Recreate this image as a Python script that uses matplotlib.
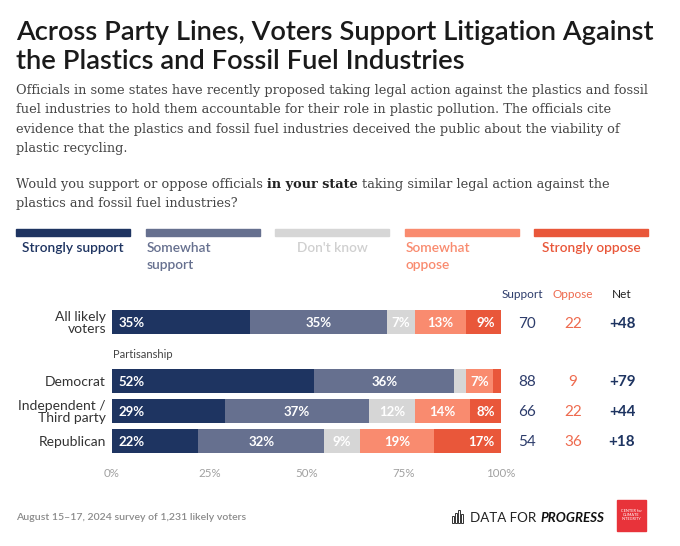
import matplotlib
matplotlib.use("Agg")
import matplotlib.pyplot as plt
from matplotlib.patches import Rectangle

# survey data (percent)
groups = ["All likely\nvoters", "Democrat", "Independent /\nThird party", "Republican"]
strongly_support = [35, 52, 29, 22]
somewhat_support = [35, 36, 37, 32]
dont_know = [7, 3, 12, 9]
somewhat_oppose = [13, 7, 14, 19]
strongly_oppose = [9, 2, 8, 17]
support_total = [70, 88, 66, 54]
oppose_total = [22, 9, 22, 36]
net_total = [48, 79, 44, 18]
answers = ["Strongly support", "Somewhat\nsupport", "Don't know", "Somewhat\noppose", "Strongly oppose"]
ticks = [0, 25, 50, 75, 100]

COLORS = ["#1e3461", "#66708f", "#d6d6d6", "#f98b6f", "#e9573a"]
SANS = "Lato"
SERIF = "DejaVu Serif"
W, H = 680, 546
ROW_Y = [322, 381, 411, 441]  # pixel centres of the rows

fig = plt.figure(figsize=(W / 100, H / 100), dpi=100)
fig.patch.set_facecolor("white")


def fx(x):
    return x / W


def fy(y):
    return 1 - y / H


def fit(t, target):
    r = fig.canvas.get_renderer()
    w = t.get_window_extent(r).width
    t.set_fontsize(t.get_fontsize() * target / w)
    return t


def px_text(x, y, s, **kw):
    kw.setdefault("family", SANS)
    kw.setdefault("va", "center_baseline")
    return fig.text(fx(x), fy(y), s, **kw)


# title + intro
t = px_text(16, 30, "Across Party Lines, Voters Support Litigation Against",
            fontsize=16, weight="semibold", color="#1a1a1a")
fit(t, 640)
title_fs = t.get_fontsize()
px_text(16, 59, "the Plastics and Fossil Fuel Industries", fontsize=title_fs,
        weight="semibold", color="#1a1a1a")

body = [
    "Officials in some states have recently proposed taking legal action against the plastics and fossil",
    "fuel industries to hold them accountable for their role in plastic pollution. The officials cite",
    "evidence that the plastics and fossil fuel industries deceived the public about the viability of",
    "plastic recycling.",
]
t = px_text(16, 89, body[0], family=SERIF, fontsize=10, color="#444444")
fit(t, 636)
body_fs = t.get_fontsize()
for i, line in enumerate(body[1:]):
    px_text(16, 108.5 + i * 19.5, line, family=SERIF, fontsize=body_fs, color="#444444")

# question line with bold part
r = fig.canvas.get_renderer()
space = body_fs * 100 / 72 * 0.32
x = 16
for part, wt in [("Would you support or oppose officials", "normal"),
                 ("in your state", "bold"),
                 ("taking similar legal action against the", "normal")]:
    t = px_text(x, 183, part, family=SERIF, fontsize=body_fs, weight=wt,
                color="#222222" if wt == "bold" else "#444444")
    x += t.get_window_extent(r).width + space
px_text(16, 202.5, "plastics and fossil fuel industries?", family=SERIF,
        fontsize=body_fs, color="#444444")

# legend
leg_w, leg_gap = 114, 15.5
for i, (lab, c) in enumerate(zip(answers, COLORS)):
    x0 = 16 + i * (leg_w + leg_gap)
    fig.patches.append(Rectangle((fx(x0), fy(236)), leg_w / W, 7 / H,
                                 transform=fig.transFigure, color=c))
    tc = "#1e3461" if i == 0 else ("#d0d0d0" if i == 2 else c)
    if "\n" in lab:
        l1, l2 = lab.split("\n")
        px_text(x0 + 1, 247, l1, fontsize=9.9, color=tc, weight="semibold")
        px_text(x0 + 1, 264, l2, fontsize=9.9, color=tc, weight="semibold")
    else:
        px_text(x0 + leg_w / 2, 247, lab, fontsize=9.9, color=tc, ha="center", weight="semibold")

# bars
ax = fig.add_axes([fx(112), fy(460), (501 - 112) / W, 160 / H])
ax.set_xlim(0, 100)
ax.set_ylim(460, 300)
series = [strongly_support, somewhat_support, dont_know, somewhat_oppose, strongly_oppose]
for row in range(len(groups)):
    vals = [s[row] for s in series]
    total = sum(vals)
    left = 0
    for k, v in enumerate(vals):
        w = v / total * 100
        ax.barh(ROW_Y[row], w, left=left, height=24, color=COLORS[k], linewidth=0)
        if v >= 5:
            if k == 0:
                xy, off, ha = (left, ROW_Y[row]), (5, 0), "left"
            elif k == len(vals) - 1:
                xy, off, ha = (left + w, ROW_Y[row]), (-4.5, 0), "right"
            else:
                xy, off, ha = (left + w / 2, ROW_Y[row]), (0, 0), "center"
            ax.annotate(f"{v}%", xy=xy, xytext=off, textcoords="offset points",
                        ha=ha, va="center_baseline", color="white", fontsize=9.5,
                        family=SANS, weight="bold")
        left += w

ax.set_xticks(ticks)
ax.set_xticklabels([f"{v}%" for v in ticks], family=SANS, fontsize=8.3, color="#a0a0a0")
ax.tick_params(axis="x", length=0, pad=6)
ax.set_yticks([])
for s in ax.spines.values():
    s.set_visible(False)

for row, g in enumerate(groups):
    px_text(106, ROW_Y[row], g, fontsize=10, color="#333333", ha="right",
            linespacing=1.0)

px_text(113, 354, "Partisanship", fontsize=8, color="#444444")

# right-hand totals
px_text(522, 294, "Support", fontsize=8.5, color="#2d3c6b", ha="center")
px_text(573, 294, "Oppose", fontsize=8.5, color="#ee6a4e", ha="center")
px_text(622, 294, "Net", fontsize=8.5, color="#222222", ha="center")
for row in range(len(groups)):
    px_text(527, ROW_Y[row], f"{support_total[row]}", fontsize=11, color="#2d3c6b", ha="center")
    px_text(573, ROW_Y[row], f"{oppose_total[row]}", fontsize=11, color="#ee6a4e", ha="center")
    px_text(622, ROW_Y[row], f"+{net_total[row]}", fontsize=11, color="#1e3461",
            ha="center", weight="bold")

# footer
t = px_text(16, 517, "August 15\u201317, 2024 survey of 1,231 likely voters",
            fontsize=8, color="#8a8a8a", weight="semibold")
fit(t, 229)

for i, hh in enumerate([7, 10, 13, 9]):
    fig.patches.append(Rectangle((fx(452 + i * 3), fy(523)), 2.2 / W, hh / H,
                                 transform=fig.transFigure, fill=False,
                                 edgecolor="#333333", linewidth=0.7))
t = px_text(470, 517, "DATA FOR", fontsize=9.6, color="#222222")
x = 470 + t.get_window_extent(r).width + 4
px_text(x, 517, "PROGRESS", fontsize=9.6, color="#111111", weight="bold", style="italic")

fig.patches.append(Rectangle((fx(617), fy(531)), 29 / W, 31 / H,
                             transform=fig.transFigure, color="#e8333a"))
px_text(631.5, 515, "CENTER for\nCLIMATE\nINTEGRITY", fontsize=2.8, color="white",
        ha="center", va="center", linespacing=1.1)

fig.savefig("out.png", dpi=100, facecolor="white")
